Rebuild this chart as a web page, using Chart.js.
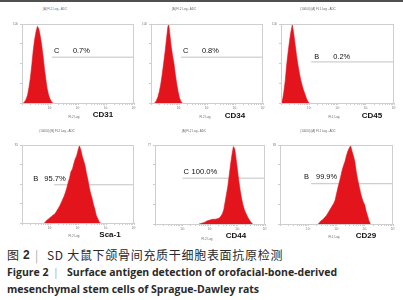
<!DOCTYPE html>
<html>
<head>
<meta charset="utf-8">
<script src="https://cdn.jsdelivr.net/npm/chart.js@4.4.1/dist/chart.umd.min.js"></script>
<style>
body { margin: 0; width: 403px; height: 300px; background: #fff; position: relative; overflow: hidden; font-family: "Liberation Sans", Arial, sans-serif; }
.topbar { position: absolute; left: 0; top: 0; width: 403px; height: 2px; background: #505050; }
canvas { position: absolute; }
.tiny { position: absolute; font-size: 3px; line-height: 3px; color: #666; white-space: nowrap; transform: translateX(-50%); }
.mk { position: absolute; font-size: 8px; line-height: 8px; font-weight: bold; color: #111; white-space: nowrap; transform: translateX(-50%); }
.cap { position: absolute; white-space: nowrap; color: #2a2a2a; }
.zh { font-family: "Noto Sans CJK SC", sans-serif; font-size: 12px; line-height: 12px; top: 249px; letter-spacing: 0.7px; }
.en { font-family: "Open Sans", sans-serif; font-weight: bold; font-size: 10.5px; line-height: 11px; }
.bar { color: #aaa; font-weight: normal; }
</style>
</head>
<body>
<div class="topbar"></div>

<div class="cap zh" style="left:7px">图</div>
<div class="cap zh" style="left:23px;font-weight:bold;font-family:'Liberation Sans',Arial">2</div>
<div class="cap zh bar" style="left:35px">|</div>
<div class="cap zh" style="left:47px">SD 大鼠下颌骨间充质干细胞表面抗原检测</div>
<div class="cap en" style="left:7px;top:267px">Figure 2</div>
<div class="cap en bar" style="left:53px;top:267px">|</div>
<div class="cap en" style="left:67px;top:267px">Surface antigen detection of orofacial-bone-derived</div>
<div class="cap en" style="left:7px;top:284px">mesenchymal stem cells of Sprague-Dawley rats</div>

<script>
// panels, in reading order
const markers = ['CD31', 'CD34', 'CD45', 'Sca-1', 'CD44', 'CD29'];
const histTitles = ['[A] FL2 Log - ADC', '[A] FL2 Log - ADC', '(10000) [A] FL1 Log - ADC',
                    '(10000) [B] FL2 Log - ADC', '[A] FL2 Log - ADC', '(10000) [A] FL1 Log - ADC'];
const axisNames = ['FL2 Log', 'FL2 Log', 'FL1 Log', 'FL2 Log', 'FL2 Log', 'FL1 Log'];
const yTopLabels = ['100', '100', '100', '81', '77', '93'];
const xTickLabels = ['', '10¹', '10²', '10³', '10⁴'];

// gate (region) per panel
const gateNames = ['C', 'C', 'B', 'B', 'C', 'B'];
const gatePct = ['0.7%', '0.8%', '0.2%', '95.7%', '100.0%', '99.9%'];
const gateStart = [1.07, 1.07, 1.07, 1.15, 1.0, 1.1];
const gateLevel = [58, 58, 52, 49, 58, 51];

// histograms: x in log decades, y in % of max count
const cd31X = [0.05, 0.1, 0.15, 0.2, 0.25, 0.3, 0.35, 0.4, 0.45, 0.5, 0.55, 0.6, 0.65, 0.7, 0.75, 0.8, 0.85, 0.9, 0.95, 1.0, 1.05, 1.1];
const cd31Y = [0, 2, 5, 10, 20, 32, 48, 66, 80, 90, 97, 94, 85, 74, 60, 44, 30, 18, 10, 5, 2, 0];

const cd34X = [0.12, 0.18, 0.25, 0.3, 0.35, 0.4, 0.45, 0.5, 0.55, 0.6, 0.63, 0.67, 0.72, 0.77, 0.82, 0.87, 0.92, 0.97, 1.02, 1.07, 1.12];
const cd34Y = [0, 2, 8, 15, 24, 36, 50, 64, 80, 96, 100, 88, 72, 60, 50, 36, 24, 14, 6, 2, 0];

const cd45X = [0.02, 0.06, 0.1, 0.15, 0.2, 0.25, 0.3, 0.35, 0.4, 0.45, 0.5, 0.55, 0.6, 0.65, 0.7, 0.75, 0.8, 0.85, 0.9, 0.95, 1.0];
const cd45Y = [0, 5, 14, 28, 48, 64, 78, 90, 99, 88, 74, 60, 48, 38, 29, 22, 16, 11, 6, 2, 0];

const sca1X = [0.8, 0.85, 0.9, 0.95, 1.0, 1.05, 1.1, 1.15, 1.2, 1.25, 1.3, 1.35, 1.4, 1.45, 1.5, 1.55, 1.6, 1.65, 1.7, 1.75,
               1.8, 1.85, 1.9, 1.95, 2.0, 2.05, 2.1, 2.15, 2.2, 2.25, 2.3, 2.35, 2.4, 2.45, 2.5, 2.55, 2.6, 2.65, 2.7, 2.75, 2.8];
const sca1Y = [0, 2, 4, 5, 7, 8, 10, 11, 13, 16, 19, 22, 26, 30, 34, 39, 45, 52, 58, 66,
               69, 76, 82, 86, 93, 99, 94, 86, 80, 74, 64, 56, 46, 38, 32, 24, 18, 10, 6, 2, 0];

const cd44X = [1.6, 1.7, 1.8, 1.9, 2.0, 2.1, 2.2, 2.3, 2.35, 2.4, 2.45, 2.5, 2.55, 2.6, 2.65, 2.7, 2.75, 2.8, 2.85, 2.9,
               2.95, 3.0, 3.05, 3.1, 3.15, 3.2, 3.25, 3.3, 3.35, 3.4, 3.45, 3.5, 3.55];
const cd44Y = [0, 1, 2, 4, 5, 6, 6, 7, 8, 10, 13, 18, 28, 38, 48, 62, 76, 88, 98, 95,
               82, 68, 54, 42, 32, 24, 18, 14, 10, 7, 4, 2, 0];

const cd29X = [1.35, 1.4, 1.45, 1.5, 1.55, 1.6, 1.65, 1.7, 1.75, 1.8, 1.85, 1.9, 1.95, 2.0, 2.05, 2.1, 2.15, 2.2, 2.25,
               2.3, 2.35, 2.4, 2.45, 2.5, 2.55, 2.6, 2.65, 2.7, 2.75, 2.8, 2.85, 2.9, 2.95, 3.0, 3.05, 3.1, 3.15, 3.2];
const cd29Y = [0, 2, 4, 5, 7, 9, 11, 14, 17, 20, 23, 26, 30, 38, 46, 53, 60, 68, 74,
               79, 86, 92, 96, 99, 92, 86, 79, 66, 56, 48, 40, 33, 28, 24, 16, 10, 4, 0];

const histX = [cd31X, cd34X, cd45X, sca1X, cd44X, cd29X];
const histY = [cd31Y, cd34Y, cd45Y, sca1Y, cd44Y, cd29Y];

// layout: plot box [left, top, right, bottom] in page px
const boxes = [[22, 24, 134, 103], [151, 24, 263, 103], [281, 24, 394, 103],
               [22, 145, 134, 223], [155, 145, 265, 224], [280, 145, 393, 224]];
const titlePos = [[55, 8], [184, 8], [318, 8], [57, 130], [194, 130], [318, 130]];
const axisNamePos = [[74, 116], [205, 116], [334, 116], [74, 235], [207, 238], [334, 236]];
const markerPos = [[103, 111], [235, 112], [372, 112], [110, 231], [236, 232], [366, 232]];
// gate label offsets from start of gate line: [name dx, pct dx, dy, font size]
const gateText = [[2, 21, -6, 7.4], [2, 21, -6, 7.4], [3, 22, -5, 7.4],
                  [-21, -10, -6, 7.6], [1, 9, -6, 7.6], [-7, 5, -7, 7.4]];

const RED = 'rgb(228, 20, 28)';
const PAD_L = 16, PAD_T = 6, PAD_R = 6, PAD_B = 12;

const boxPlugin = {
    id: 'boxPlugin',
    afterDraw(chart) {
        const a = chart.chartArea;
        const ctx = chart.ctx;
        ctx.save();
        ctx.strokeStyle = '#cfcfcf';
        ctx.lineWidth = 1;
        ctx.strokeRect(a.left + 0.5, a.top + 0.5, a.right - a.left - 1, a.bottom - a.top);
        ctx.restore();
    }
};

const gateLabel = {
    id: 'gateLabel',
    afterDatasetsDraw(chart, args, opts) {
        const p = chart.getDatasetMeta(1).data[0];
        const ctx = chart.ctx;
        ctx.save();
        ctx.fillStyle = '#111';
        ctx.font = opts.size + 'px "Liberation Sans", Arial, sans-serif';
        ctx.textBaseline = 'middle';
        ctx.fillText(opts.name, p.x + opts.dxName, p.y + opts.dy);
        ctx.fillText(opts.pct, p.x + opts.dxPct, p.y + opts.dy);
        ctx.restore();
    }
};

function addText(cls, text, x, y) {
    const d = document.createElement('div');
    d.className = cls;
    d.textContent = text;
    d.style.left = x + 'px';
    d.style.top = y + 'px';
    document.body.appendChild(d);
}

markers.forEach((name, i) => {
    const [l, t, r, b] = boxes[i];
    const cv = document.createElement('canvas');
    const w = r - l + PAD_L + PAD_R, h = b - t + PAD_T + PAD_B;
    cv.width = w; cv.height = h;
    cv.style.left = (l - PAD_L) + 'px';
    cv.style.top = (t - PAD_T) + 'px';
    cv.style.width = w + 'px';
    cv.style.height = h + 'px';
    document.body.appendChild(cv);

    addText('tiny', histTitles[i], titlePos[i][0], titlePos[i][1]);
    addText('tiny', axisNames[i], axisNamePos[i][0], axisNamePos[i][1]);
    addText('mk', name, markerPos[i][0], markerPos[i][1]);

    const pts = histX[i].map((x, k) => ({ x: x, y: histY[i][k] }));
    const gt = gateText[i];

    new Chart(cv.getContext('2d'), {
        type: 'line',
        data: {
            datasets: [{
                data: pts,
                borderColor: RED,
                backgroundColor: RED,
                borderWidth: 0.6,
                pointRadius: 0,
                fill: 'origin'
            }, {
                data: [{ x: gateStart[i], y: gateLevel[i] }, { x: 4, y: gateLevel[i] }],
                borderColor: '#b4b4b4',
                borderWidth: 0.8,
                pointRadius: 0,
                fill: false
            }]
        },
        options: {
            responsive: false,
            animation: false,
            devicePixelRatio: 1,
            layout: { padding: { top: PAD_T, right: PAD_R, left: 0, bottom: 0 } },
            plugins: {
                legend: { display: false },
                tooltip: { enabled: false },
                gateLabel: { name: gateNames[i], pct: gatePct[i], dxName: gt[0], dxPct: gt[1], dy: gt[2], size: gt[3] }
            },
            scales: {
                x: {
                    type: 'linear',
                    min: 0,
                    max: 4,
                    afterFit(scale) { scale.height = PAD_B; },
                    afterBuildTicks(scale) {
                        const ticks = [];
                        for (let d = 0; d < 4; d++) {
                            for (let m = 1; m < 10; m++) ticks.push({ value: d + Math.log10(m) });
                        }
                        ticks.push({ value: 4 });
                        scale.ticks = ticks;
                    },
                    ticks: {
                        autoSkip: false,
                        maxRotation: 0,
                        padding: 1,
                        font: { size: 3 },
                        color: '#777',
                        callback: v => Number.isInteger(v) ? xTickLabels[v] : ''
                    },
                    grid: { drawOnChartArea: false, tickLength: 2, color: '#aaa', lineWidth: 0.6 },
                    border: { display: false }
                },
                y: {
                    min: 0,
                    max: 100,
                    afterFit(scale) { scale.width = PAD_L; },
                    ticks: {
                        stepSize: 25,
                        padding: 2,
                        font: { size: 3 },
                        color: '#777',
                        callback: v => v === 100 ? yTopLabels[i] : ''
                    },
                    grid: { drawOnChartArea: false, tickLength: 2, color: '#aaa', lineWidth: 0.6 },
                    border: { display: false }
                }
            }
        },
        plugins: [boxPlugin, gateLabel]
    });
});
</script>
</body>
</html>
